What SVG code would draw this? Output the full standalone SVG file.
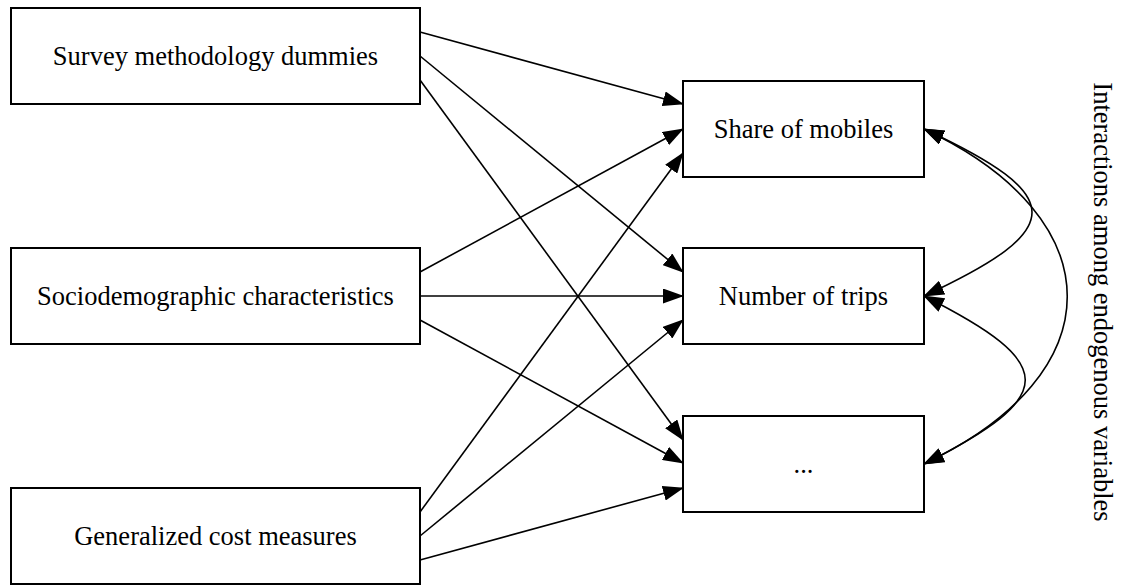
<svg xmlns="http://www.w3.org/2000/svg" width="1123" height="588" viewBox="0 0 1123 588">
  <style>
    .box { fill: #ffffff; stroke: #000000; stroke-width: 2; }
    .lbl { font-family: "Liberation Serif", "Times New Roman", serif; font-size: 26.5px; fill: #000000; text-anchor: middle; }
    .edge { fill: none; stroke: #000000; stroke-width: 1.6; }
  </style>
  <defs>
    <marker id="ah" markerWidth="21" markerHeight="15" refX="20" refY="7.5" orient="auto-start-reverse" markerUnits="userSpaceOnUse">
      <path d="M0,0 L21,7.5 L0,15 z" fill="#000000"/>
    </marker>
  </defs>
  <rect width="1123" height="588" fill="#ffffff"/>

  <g id="connectors">
    <line class="edge" x1="420" y1="32" x2="683" y2="104" marker-end="url(#ah)"/>
    <line class="edge" x1="420" y1="56" x2="683" y2="272" marker-end="url(#ah)"/>
    <line class="edge" x1="420" y1="80" x2="683" y2="440" marker-end="url(#ah)"/>
    <line class="edge" x1="420" y1="272" x2="683" y2="129" marker-end="url(#ah)"/>
    <line class="edge" x1="420" y1="296" x2="683" y2="296" marker-end="url(#ah)"/>
    <line class="edge" x1="420" y1="320" x2="683" y2="463" marker-end="url(#ah)"/>
    <line class="edge" x1="420" y1="512" x2="683" y2="153" marker-end="url(#ah)"/>
    <line class="edge" x1="420" y1="536" x2="683" y2="320" marker-end="url(#ah)"/>
    <line class="edge" x1="420" y1="560" x2="683" y2="488" marker-end="url(#ah)"/>
    <path class="edge" d="M924,129 C1068,196 1068,229 924,296" marker-start="url(#ah)" marker-end="url(#ah)"/>
    <path class="edge" d="M924,129 C1115,219 1115,374 924,464" marker-start="url(#ah)" marker-end="url(#ah)"/>
    <path class="edge" d="M924,296 C1059,364 1059,396 924,464" marker-start="url(#ah)" marker-end="url(#ah)"/>
  </g>

  <g id="survey">
    <rect class="box" x="11" y="8" width="409" height="96"/>
    <text class="lbl" x="215.5" y="65">Survey methodology dummies</text>
  </g>
  <g id="socio">
    <rect class="box" x="11" y="248" width="409" height="96"/>
    <text class="lbl" x="215.5" y="305">Sociodemographic characteristics</text>
  </g>
  <g id="cost">
    <rect class="box" x="11" y="488" width="409" height="96"/>
    <text class="lbl" x="215.5" y="545">Generalized cost measures</text>
  </g>
  <g id="share">
    <rect class="box" x="683" y="81" width="241" height="96"/>
    <text class="lbl" x="803.5" y="138">Share of mobiles</text>
  </g>
  <g id="trips">
    <rect class="box" x="683" y="248" width="241" height="96"/>
    <text class="lbl" x="803.5" y="305">Number of trips</text>
  </g>
  <g id="other">
    <rect class="box" x="683" y="416" width="241" height="96"/>
    <text class="lbl" x="803.5" y="473">...</text>
  </g>
  <g id="interactions-label">
    <text class="lbl" transform="translate(1094,302) rotate(90)">Interactions among endogenous variables</text>
  </g>
</svg>
